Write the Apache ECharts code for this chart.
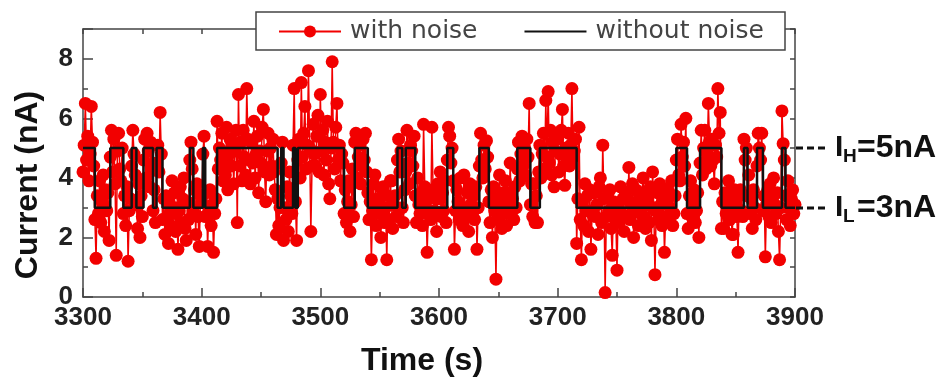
<!DOCTYPE html>
<html>
<head>
<meta charset="utf-8">
<script src="https://cdn.jsdelivr.net/npm/echarts@6/dist/echarts.min.js"></script>
<style>
  html, body { margin: 0; padding: 0; background: #fff; }
  #chart { width: 949px; height: 381px; }
</style>
</head>
<body>
<div id="chart"></div>
<script>
// Sampled current trace (nA), one sample per second starting at 3300 s
const sampleStart = 3300;
const sampleStep = 1;
const noisyCurrent = [
  4.2, 5.1, 6.5, 4.6, 5.4, 3.9, 4.8, 6.4, 5.2, 4.4,
  2.6, 1.3, 3.4, 2.8, 3.9, 2.5, 3.2, 4.1, 2.2, 3.6,
  2.9, 3.5, 1.9, 4.7, 5.6, 4.2, 5.3, 3.8, 1.4, 4.9,
  5.5, 4.3, 3.9, 5.0, 2.8, 3.4, 2.4, 3.7, 1.2, 2.9,
  3.3, 4.4, 5.6, 4.8, 4.1, 3.1, 2.3, 3.8, 2.0, 3.4,
  2.7, 4.6, 5.3, 4.0, 5.5, 4.9, 3.7, 5.2, 4.3, 2.9,
  3.6, 2.5, 4.5, 5.1, 4.2, 6.2, 4.8, 2.6, 3.3, 2.1,
  3.4, 2.7, 1.8, 3.1, 2.4, 3.9, 2.8, 3.5, 2.2, 3.0,
  1.6, 2.9, 3.7, 2.5, 3.3, 4.0, 2.3, 1.9, 3.2, 2.6,
  4.6, 5.2, 4.3, 2.9, 3.6, 2.1, 3.8, 2.7, 1.7, 3.4,
  3.2, 4.8, 5.4, 2.7, 3.5, 1.7, 2.9, 3.6, 2.4, 3.1,
  1.5, 2.8, 3.3, 5.9, 4.3, 5.0, 4.6, 5.5, 3.9, 4.7,
  4.1, 5.7, 3.6, 4.8, 5.3, 4.4, 5.1, 3.8, 4.9, 5.6,
  2.5, 6.8, 4.4, 5.2, 3.9, 5.6, 4.7, 4.1, 7.0, 5.3,
  4.6, 3.8, 5.2, 4.5, 5.9, 4.0, 4.8, 5.4, 3.5, 4.9,
  4.5, 5.7, 6.3, 4.2, 3.2, 4.9, 5.5, 4.1, 5.0, 4.4,
  5.3, 4.2, 3.6, 2.1, 3.3, 2.4, 3.0, 4.5, 5.2, 1.9,
  3.0, 2.6, 3.7, 2.2, 4.2, 3.4, 2.8, 5.1, 7.0, 3.2,
  1.9, 4.6, 5.3, 4.0, 7.2, 4.7, 5.5, 6.4, 4.3, 5.1,
  7.6, 5.0, 2.2, 4.4, 5.8, 4.8, 4.4, 5.4, 6.1, 4.2,
  6.8, 4.9, 5.6, 4.1, 5.2, 4.6, 5.9, 3.8, 3.3, 5.0,
  7.9, 5.2, 4.3, 5.7, 6.5, 4.6, 5.1, 3.9, 4.8, 4.5,
  2.8, 3.6, 2.5, 3.2, 3.9, 2.2, 3.1, 4.3, 2.7, 5.2,
  5.5, 4.0, 4.7, 5.1, 3.8, 4.4, 5.3, 4.6, 5.5, 4.2,
  3.5, 2.6, 3.2, 1.25, 2.9, 3.8, 4.1, 2.4, 3.3, 2.8,
  3.3, 2.0, 3.6, 3.7, 2.5, 3.0, 1.25, 3.4, 2.6, 3.9,
  3.9, 2.3, 3.1, 3.4, 2.7, 4.6, 5.3, 4.2, 4.9, 3.0,
  2.5, 3.6, 4.2, 5.6, 4.5, 3.8, 5.1, 4.9, 4.4, 5.4,
  3.4, 2.5, 4.0, 3.1, 2.8, 3.5, 2.4, 5.8, 3.7, 3.2,
  1.5, 2.8, 3.4, 2.6, 5.7, 3.6, 2.9, 3.3, 2.2, 3.8,
  3.3, 4.2, 2.7, 3.5, 2.9, 3.9, 2.5, 4.6, 5.7, 5.4,
  4.5, 5.0, 3.9, 1.6, 2.9, 3.6, 3.2, 2.6, 4.0, 3.0,
  2.4, 4.1, 3.0, 2.7, 3.5, 2.2, 3.8, 3.1, 2.8, 3.4,
  2.6, 3.7, 1.6, 3.0, 4.4, 5.5, 4.6, 4.0, 5.1, 4.3,
  5.25, 4.7, 3.2, 2.5, 3.6, 2.0, 3.7, 2.9, 0.6, 3.3,
  2.6, 4.1, 3.0, 2.3, 3.5, 2.8, 3.9, 2.4, 3.5, 3.1,
  4.5, 2.8, 3.3, 2.6, 3.7, 3.0, 4.3, 5.2, 3.9, 4.8,
  5.4, 4.4, 5.0, 4.1, 5.3, 4.7, 6.5, 3.1, 3.8, 2.7,
  3.8, 2.5, 3.4, 2.5, 4.2, 5.1, 4.0, 4.8, 5.5, 4.3,
  6.6, 4.7, 6.9, 4.5, 5.6, 4.1, 5.2, 3.7, 4.9, 5.4,
  5.3, 4.2, 4.8, 5.6, 6.3, 4.4, 3.75, 5.0, 4.6, 5.5,
  4.4, 5.1, 7.0, 4.7, 4.9, 5.3, 1.8, 3.3, 5.7, 2.6,
  1.25, 3.2, 2.4, 3.8, 2.9, 3.4, 2.2, 3.6, 1.6, 2.8,
  2.9, 3.5, 2.7, 3.1, 2.1, 3.7, 4.0, 2.5, 5.1, 3.3,
  0.15, 2.7, 3.4, 2.9, 3.6, 2.3, 1.4, 3.2, 3.0, 2.6,
  0.9, 3.1, 2.5, 3.7, 2.8, 3.3, 2.2, 3.5, 3.3, 2.7,
  4.35, 2.6, 3.1, 3.8, 2.0, 2.9, 3.6, 3.2, 2.4, 3.4,
  2.8, 3.5, 4.0, 2.7, 2.3, 3.1, 3.4, 2.5, 3.7, 1.9,
  4.2, 3.0, 0.75, 2.9, 3.5, 2.6, 3.8, 3.1, 2.4, 3.3,
  1.5, 2.7, 3.2, 3.6, 2.6, 3.0, 3.9, 2.4, 2.8, 3.4,
  4.6, 5.3, 4.1, 3.9, 5.8, 4.7, 5.2, 4.4, 6.0, 2.8,
  2.3, 3.4, 3.9, 2.7, 3.2, 3.6, 2.5, 2.9, 3.5, 2.0,
  4.5, 5.6, 4.1, 5.0, 5.6, 4.3, 4.8, 6.5, 5.2, 4.4,
  5.3, 4.6, 3.8, 5.1, 4.7, 7.0, 5.5, 6.2, 2.3, 3.2,
  2.3, 3.5, 2.8, 3.3, 3.9, 2.6, 3.0, 2.1, 2.1, 3.6,
  3.2, 2.7, 1.5, 3.4, 3.6, 2.9, 2.7, 5.3, 4.6, 5.0,
  3.4, 4.1, 2.8, 3.3, 2.3, 3.6, 3.0, 2.6, 4.4, 5.5,
  5.0, 4.6, 5.5, 2.9, 3.4, 1.35, 3.1, 3.6, 2.7, 3.8,
  2.5, 3.3, 4.0, 3.1, 2.8, 3.5, 2.2, 1.25, 3.0, 6.25,
  5.15, 4.6, 3.4, 2.6, 3.9, 3.0, 2.4, 3.3, 3.6, 2.8,
  3.1
];

// Two-level telegraph signal: switching times (s) and the level held from each
const stepTimes = [
  3300, 3310, 3323, 3334, 3341, 3345, 3351, 3359, 3362, 3367,
  3390, 3393, 3401, 3403, 3413, 3464, 3467, 3469, 3477, 3479,
  3481, 3520, 3529, 3540, 3565, 3569, 3572, 3580, 3607, 3612,
  3634, 3642, 3666, 3677, 3685, 3716, 3800, 3809, 3820, 3838,
  3857, 3860, 3868, 3873, 3889, 3892, 3900
];
const stepLevels = [
  5, 3, 5, 3, 5, 3, 5, 3, 5, 3,
  5, 3, 5, 3, 5, 3, 5, 3, 5, 3,
  5, 3, 5, 3, 5, 3, 5, 3, 5, 3,
  5, 3, 5, 3, 5, 3, 5, 3, 5, 3,
  5, 3, 5, 3, 5, 3, 3
];

// Current levels marked at the right edge
const levelValues = [5, 3];
const levelSubscripts = ['H', 'L'];
const levelTexts = ['=5nA', '=3nA'];

const seriesNames = ['with noise', 'without noise'];
const xTicks = { min: 3300, max: 3900, interval: 100 };
const yTicks = { min: 0, max: 9, interval: 2 };

const noisyData = noisyCurrent.map((v, i) => [sampleStart + i * sampleStep, v]);
const stepData = stepTimes.map((t, i) => [t, stepLevels[i]]);

const RED = '#f20000';
const AXIS = '#444';
const FONT = '"Liberation Sans", Arial, sans-serif';

const chart = echarts.init(document.getElementById('chart'), null, { renderer: 'canvas' });

const frameLine = { show: true, onZero: false, lineStyle: { color: AXIS, width: 1.5 } };

chart.setOption({
  animation: false,
  backgroundColor: '#fff',
  grid: { left: 83, right: 154, top: 29, bottom: 84, containLabel: false },
  legend: {
    data: [
      { name: seriesNames[0] },
      { name: seriesNames[1], itemStyle: { opacity: 0 } }
    ],
    left: 278,
    top: 19,
    padding: 0,
    itemWidth: 62,
    itemHeight: 15,
    itemGap: 46,
    z: 20,
    textStyle: { fontFamily: '"DejaVu Sans", sans-serif', fontSize: 25, color: '#444', padding: [0, 0, 0, 4] }
  },
  xAxis: [
    {
      type: 'value', position: 'bottom',
      min: xTicks.min, max: xTicks.max, interval: xTicks.interval,
      axisLine: frameLine,
      axisTick: { show: true, inside: true, length: 9, lineStyle: { color: AXIS, width: 1.5 } },
      minorTick: { show: true, splitNumber: 2, length: 5, lineStyle: { color: AXIS, width: 1.5 } },
      splitLine: { show: false },
      axisLabel: { fontFamily: FONT, fontWeight: 'bold', fontSize: 26, color: '#222', margin: 8,
                   formatter: v => String(v) }
    },
    {
      type: 'value', position: 'top',
      min: xTicks.min, max: xTicks.max, interval: 50,
      axisLine: frameLine,
      axisTick: { show: true, inside: true, length: 5, lineStyle: { color: AXIS, width: 1.5 } },
      splitLine: { show: false },
      axisLabel: { show: false }
    }
  ],
  yAxis: [
    {
      type: 'value', position: 'left',
      min: yTicks.min, max: yTicks.max, interval: yTicks.interval,
      axisLine: frameLine,
      axisTick: { show: true, inside: true, length: 10, lineStyle: { color: AXIS, width: 1.5 } },
      splitLine: { show: false },
      axisLabel: {
        fontFamily: FONT, fontWeight: 'bold', fontSize: 26, color: '#222', margin: 10,
        formatter: v => (v % yTicks.interval === 0 ? String(v) : '')
      }
    },
    {
      type: 'value', position: 'right',
      min: yTicks.min, max: yTicks.max, interval: 1,
      axisLine: frameLine,
      axisTick: { show: true, inside: true, length: 5, lineStyle: { color: AXIS, width: 1.5 } },
      splitLine: { show: false },
      axisLabel: { show: false }
    },
    {
      type: 'value', position: 'left',
      min: yTicks.min, max: yTicks.max, interval: 1,
      axisLine: { show: false },
      axisTick: { show: true, inside: true, length: 5, lineStyle: { color: AXIS, width: 1.5 } },
      splitLine: { show: false },
      axisLabel: { show: false }
    }
  ],
  series: [
    {
      name: seriesNames[0],
      type: 'line',
      data: noisyData,
      showSymbol: true,
      showAllSymbol: true,
      symbol: 'circle',
      symbolSize: 13,
      itemStyle: { color: RED },
      lineStyle: { color: RED, width: 1.5 },
      z: 2
    },
    {
      name: seriesNames[1],
      type: 'line',
      data: stepData,
      step: 'end',
      showSymbol: false,
      symbol: 'none',
      itemStyle: { color: '#111' },
      lineStyle: { color: '#111', width: 2.5 },
      z: 3
    }
  ]
});

// Legend frame, axis titles and the level annotations on the right
function drawOverlay() {
  const elements = [
    {
      type: 'rect', z: 15,
      shape: { x: 256, y: 12, width: 529, height: 38 },
      style: { fill: '#fff', stroke: '#444', lineWidth: 1.5 }
    },
    {
      type: 'text', z: 15, x: 28, y: 185, rotation: Math.PI / 2,
      style: { text: 'Current (nA)', fontFamily: FONT, fontWeight: 'bold', fontSize: 32,
               fill: '#111', align: 'center', verticalAlign: 'middle' }
    },
    {
      type: 'text', z: 15, x: 422, y: 361,
      style: { text: 'Time (s)', fontFamily: FONT, fontWeight: 'bold', fontSize: 32,
               fill: '#111', align: 'center', verticalAlign: 'middle' }
    }
  ];
  levelValues.forEach((lv, i) => {
    const p = chart.convertToPixel({ xAxisIndex: 0, yAxisIndex: 0 }, [xTicks.max, lv]);
    const y = Math.round(p[1]);
    elements.push({
      type: 'line', z: 15,
      shape: { x1: p[0] + 1, y1: y, x2: p[0] + 34, y2: y },
      style: { stroke: '#111', lineWidth: 3, lineDash: [7, 4] }
    });
    elements.push({
      type: 'text', z: 15, x: p[0] + 40, y: y,
      style: { text: 'I', fontFamily: FONT, fontWeight: 'bold', fontSize: 30, fill: '#111',
               align: 'left', verticalAlign: 'middle' }
    });
    elements.push({
      type: 'text', z: 15, x: p[0] + 48, y: y + 9,
      style: { text: levelSubscripts[i], fontFamily: FONT, fontWeight: 'bold', fontSize: 19, fill: '#111',
               align: 'left', verticalAlign: 'middle' }
    });
    elements.push({
      type: 'text', z: 15, x: p[0] + 62, y: y,
      style: { text: levelTexts[i], fontFamily: FONT, fontWeight: 'bold', fontSize: 32, fill: '#111',
               align: 'left', verticalAlign: 'middle' }
    });
  });
  chart.setOption({ graphic: elements });
}
drawOverlay();
</script>
</body>
</html>
